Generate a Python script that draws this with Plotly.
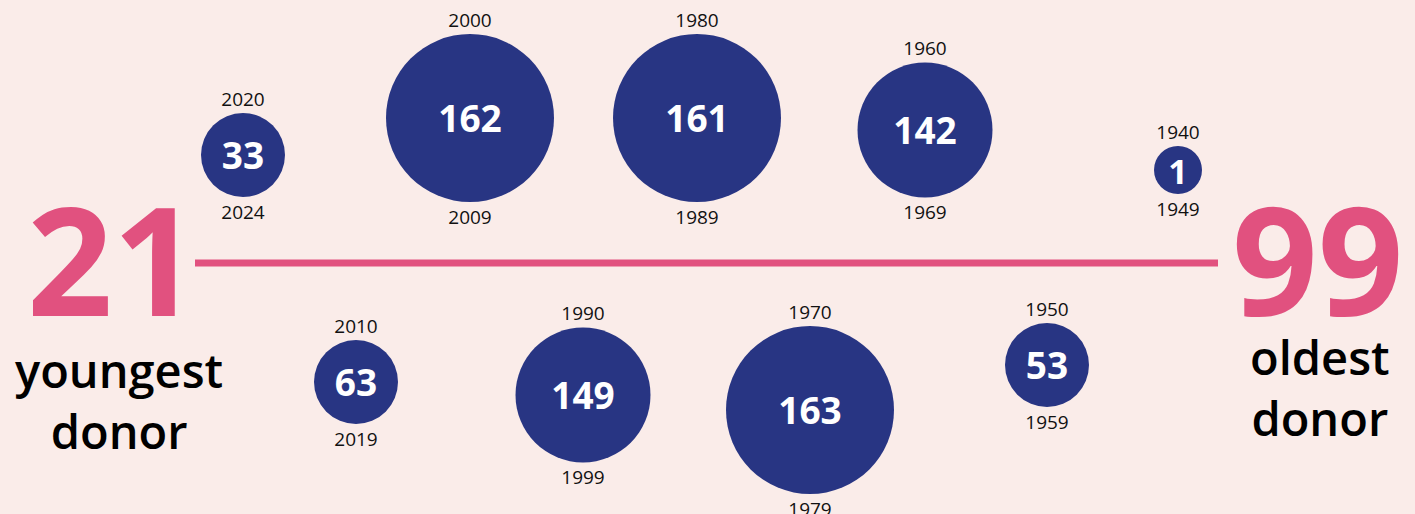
import plotly.graph_objects as go

# ---------------- data ----------------
decade_start = [2020, 2010, 2000, 1990, 1980, 1970, 1960, 1950, 1940]
decade_end = [2024, 2019, 2009, 1999, 1989, 1979, 1969, 1959, 1949]
donors = [33, 63, 162, 149, 161, 163, 142, 53, 1]
youngest_age = 21
oldest_age = 99

# ---------------- layout (pixel-like canvas units) ----------------
x_pos = [243, 356, 470, 583, 697, 810, 925, 1047, 1178]
y_pos = [155, 382, 118, 395, 118, 410, 130, 365, 170]


def bubble_diameter(v):
    if v < 10:
        return 48
    if v < 100:
        return 84
    if v < 155:
        return 135
    return 168


sizes = [bubble_diameter(v) for v in donors]

NAVY = "#283583"
PINK = "#E1517F"
BG = "#FAECE9"
FONT = "Open Sans"

fig = go.Figure()

# timeline line
fig.add_trace(go.Scatter(x=[195, 1218], y=[263, 263], mode="lines",
                         line=dict(color=PINK, width=7), hoverinfo="skip"))

# bubbles
fig.add_trace(go.Scatter(
    x=x_pos, y=y_pos, mode="markers",
    marker=dict(size=sizes, color=NAVY, line=dict(width=0), opacity=1),
    hoverinfo="skip"))

# counts inside bubbles (nudged to optical centre)
fig.add_trace(go.Scatter(
    x=x_pos, y=[y + 5 for y in y_pos], mode="text",
    text=[str(v) for v in donors], textposition="middle center",
    textfont=dict(family=FONT, size=[34 if v < 10 else 37 for v in donors],
                  color="white", weight="bold"),
    hoverinfo="skip"))

# year labels
top_y = [y - s / 2 - 12 for y, s in zip(y_pos, sizes)]
bot_y = [y + s / 2 + 17 for y, s in zip(y_pos, sizes)]
fig.add_trace(go.Scatter(x=x_pos, y=top_y, mode="text", text=[str(v) for v in decade_start],
                         textposition="middle center",
                         textfont=dict(family=FONT, size=19, color="#111111"), hoverinfo="skip"))
fig.add_trace(go.Scatter(x=x_pos, y=bot_y, mode="text", text=[str(v) for v in decade_end],
                         textposition="middle center",
                         textfont=dict(family=FONT, size=19, color="#111111"), hoverinfo="skip"))

# big ages and captions
fig.add_annotation(x=113, y=258, text=str(youngest_age), showarrow=False,
                   font=dict(family=FONT, size=150, color=PINK, weight="bold"),
                   xanchor="center", yanchor="middle")
fig.add_annotation(x=1318, y=258, text=str(oldest_age), showarrow=False,
                   font=dict(family=FONT, size=150, color=PINK, weight="bold"),
                   xanchor="center", yanchor="middle")
fig.add_annotation(x=119, y=400, text="youngest<br>donor", showarrow=False,
                   font=dict(family=FONT, size=47, color="#000000", weight=600),
                   xanchor="center", yanchor="middle")
fig.add_annotation(x=1320, y=387, text="oldest<br>donor", showarrow=False,
                   font=dict(family=FONT, size=47, color="#000000", weight=600),
                   xanchor="center", yanchor="middle")

fig.update_layout(
    width=1415, height=514, autosize=False,
    margin=dict(l=0, r=0, t=0, b=0),
    paper_bgcolor=BG, plot_bgcolor=BG,
    showlegend=False,
    xaxis=dict(range=[0, 1415], visible=False, fixedrange=True),
    yaxis=dict(range=[514, 0], visible=False, fixedrange=True),
)

fig.write_html("out.html", config={"displayModeBar": False},
               post_script="document.body.style.margin='0';document.body.style.background='" + BG + "';")
